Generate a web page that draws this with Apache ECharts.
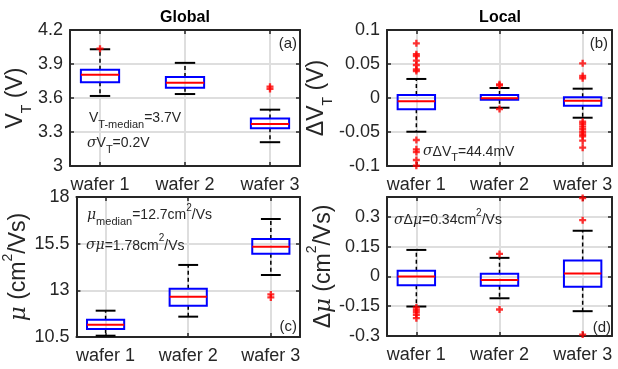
<!DOCTYPE html>
<html><head><meta charset="utf-8">
<script src="https://cdn.jsdelivr.net/npm/echarts@6/dist/echarts.min.js"></script>
<style>html,body{margin:0;padding:0;background:#fff}#c{width:618px;height:369px}</style>
</head><body><div id="c"></div>
<script>
// ---------------- data ----------------
const categories = ['wafer 1', 'wafer 2', 'wafer 3'];
const xPositions = [1, 2, 3];
// box stats per wafer: [lower whisker, Q1, median, Q3, upper whisker]
const vtGlobalBoxes = [[3.618, 3.74, 3.806, 3.85, 4.03], [3.635, 3.69, 3.735, 3.785, 3.91], [3.21, 3.333, 3.37, 3.42, 3.497]];
const vtGlobalOutliers = [[4.035], [], [3.68, 3.70]];
const vtGlobalTicks = [3, 3.3, 3.6, 3.9, 4.2];

const dvtLocalBoxes = [[-0.0496, -0.0166, -0.0049, 0.0044, 0.028], [-0.0143, -0.0025, -0.0004, 0.0044, 0.0147], [-0.029, -0.0113, -0.004, 0.001, 0.0137]];
const dvtLocalOutliers = [
  [0.0804, 0.0643, 0.0618, 0.0549, 0.0485, 0.0422, 0.0397, -0.0618, -0.0755, -0.0794, -0.0912, -0.0996],
  [0.0201, 0.0185, -0.0162],
  [0.051, 0.0324, 0.029, -0.0349, -0.0382, -0.0422, -0.046, -0.05, -0.0534, -0.0563, -0.0628, -0.0731]
];
const dvtLocalTicks = [-0.1, -0.05, 0, 0.05, 0.1];

const muGlobalBoxes = [[10.57, 10.93, 11.16, 11.43, 11.91], [11.59, 12.18, 12.66, 13.09, 14.36], [13.82, 14.96, 15.34, 15.75, 16.82]];
const muGlobalOutliers = [[], [], [12.62, 12.78]];
const muGlobalTicks = [10.5, 13, 15.5, 18];

const dmuLocalBoxes = [[-0.1515, -0.045, 0, 0.0285, 0.1335], [-0.11, -0.0465, -0.018, 0.0135, 0.0935], [-0.175, -0.0515, 0.015, 0.08, 0.23]];
const dmuLocalOutliers = [[-0.156, -0.168, -0.18, -0.193, -0.21], [0.1135, -0.1665], [0.395, 0.2835, -0.293]];
const dmuLocalTicks = [-0.3, -0.15, 0, 0.15, 0.3];

// ---------------- styling / layout ----------------
const FONT = '"Liberation Sans", Arial, Helvetica, sans-serif';
const SERIF = '"DejaVu Serif", serif';
const INK = '#262626';
const GRIDC = '#dedede';
const X_MIN = 0.647, X_MAX = 3.353;
const BOX_HALF = 0.225, CAP_HALF = 0.12;

const nameRich = {
  m: {fontSize: 23, lineHeight: 36, fontFamily: FONT, color: INK},
  g: {fontSize: 23, lineHeight: 36, fontFamily: SERIF, fontStyle: 'italic', color: INK},
  sub: {fontSize: 14, lineHeight: 14, verticalAlign: 'bottom', fontFamily: FONT, color: INK},
  sup: {fontSize: 14, lineHeight: 12, verticalAlign: 'top', fontFamily: FONT, color: INK}
};
const annRich = {
  m: {fontSize: 14, lineHeight: 24, fontFamily: FONT, color: INK},
  g: {fontSize: 14, lineHeight: 24, fontFamily: SERIF, fontStyle: 'italic', color: INK},
  sub: {fontSize: 11, lineHeight: 11, verticalAlign: 'bottom', fontFamily: FONT, color: INK},
  sup: {fontSize: 10, lineHeight: 18, verticalAlign: 'top', fontFamily: FONT, color: INK}
};

const panels = [
  {boxes: vtGlobalBoxes, outliers: vtGlobalOutliers, ticks: vtGlobalTicks, min: 3, max: 4.2,
   grid: {left: 70, top: 30, width: 230, height: 136}, name: '{m|V}{sub|T}{m| (V)}', nameGap: 29},
  {boxes: dvtLocalBoxes, outliers: dvtLocalOutliers, ticks: dvtLocalTicks, min: -0.1, max: 0.1,
   grid: {left: 387, top: 30, width: 225, height: 136}, name: '{m|ΔV}{sub|T}{m| (V)}', nameGap: 40},
  {boxes: muGlobalBoxes, outliers: muGlobalOutliers, ticks: muGlobalTicks, min: 10.5, max: 18,
   grid: {left: 71, top: 197, width: 229, height: 140}, name: '{g|μ}{m| (cm}{sup|2}{m|/Vs)}', nameGap: 29},
  {boxes: dmuLocalBoxes, outliers: dmuLocalOutliers, ticks: dmuLocalTicks, min: -0.3, max: 0.4,
   grid: {left: 387, top: 197, width: 225, height: 139}, name: '{m|Δ}{g|μ}{m| (cm}{sup|2}{m|/Vs)}', nameGap: 44}
];

const fmt = v => String(Math.round(v * 1000) / 1000);
const lineStyle = {color: INK, width: 2};
const grids = [], xAxes = [], yAxes = [], series = [];

panels.forEach((p, i) => {
  grids.push(Object.assign({containLabel: false}, p.grid));
  xAxes.push({
    type: 'value', gridIndex: i, min: X_MIN, max: X_MAX, position: 'bottom',
    axisLine: {show: true, onZero: false, lineStyle},
    axisTick: {show: true, inside: true, length: 4, customValues: xPositions, lineStyle: {color: INK, width: 1.5}},
    axisLabel: {show: true, customValues: xPositions, formatter: v => categories[Math.round(v) - 1],
                fontSize: 18, fontFamily: FONT, color: INK, margin: 10},
    splitLine: {show: true, lineStyle: {color: GRIDC, width: 2}}
  });
  xAxes.push({
    type: 'value', gridIndex: i, min: X_MIN, max: X_MAX, position: 'top',
    axisLine: {show: true, onZero: false, lineStyle},
    axisTick: {show: true, inside: true, length: 4, customValues: xPositions, lineStyle: {color: INK, width: 1.5}},
    axisLabel: {show: false}, splitLine: {show: false}
  });
  yAxes.push({
    type: 'value', gridIndex: i, min: p.min, max: p.max, position: 'left',
    axisLine: {show: true, onZero: false, lineStyle},
    axisTick: {show: true, inside: true, length: 4, customValues: p.ticks, lineStyle: {color: INK, width: 1.5}},
    axisLabel: {show: true, customValues: p.ticks, formatter: fmt, fontSize: 18, fontFamily: FONT, color: INK, margin: 7},
    splitLine: {show: true, lineStyle: {color: GRIDC, width: 2}},
    name: p.name, nameLocation: 'middle', nameRotate: 90, nameGap: p.nameGap,
    nameTextStyle: {rich: nameRich}
  });
  yAxes.push({
    type: 'value', gridIndex: i, min: p.min, max: p.max, position: 'right',
    axisLine: {show: true, onZero: false, lineStyle},
    axisTick: {show: true, inside: true, length: 4, customValues: p.ticks, lineStyle: {color: INK, width: 1.5}},
    axisLabel: {show: false}, splitLine: {show: false}
  });

  series.push({
    type: 'custom', xAxisIndex: i * 2, yAxisIndex: i * 2, z: 3,
    data: p.boxes.map((b, k) => [xPositions[k]].concat(b)),
    encode: {x: 0, y: [1, 2, 3, 4, 5]},
    renderItem: (params, api) => {
      const x = api.value(0);
      const lo = api.value(1), q1 = api.value(2), med = api.value(3), q3 = api.value(4), hi = api.value(5);
      const c = (xx, yy) => api.coord([xx, yy]);
      const seg = (a, b, style) => ({type: 'line', shape: {x1: a[0], y1: a[1], x2: b[0], y2: b[1]}, style});
      const dash = {stroke: '#000', lineWidth: 1.5, lineDash: [4, 3]};
      const cap = {stroke: '#000', lineWidth: 2};
      const tl = c(x - BOX_HALF, q3), br = c(x + BOX_HALF, q1);
      return {type: 'group', children: [
        seg(c(x, q3), c(x, hi), dash),
        seg(c(x, q1), c(x, lo), dash),
        seg(c(x - CAP_HALF, hi), c(x + CAP_HALF, hi), cap),
        seg(c(x - CAP_HALF, lo), c(x + CAP_HALF, lo), cap),
        {type: 'rect', shape: {x: tl[0], y: tl[1], width: br[0] - tl[0], height: br[1] - tl[1]},
         style: {fill: 'none', stroke: '#0000ff', lineWidth: 2}},
        seg(c(x - BOX_HALF, med), c(x + BOX_HALF, med), {stroke: '#ff0000', lineWidth: 2})
      ]};
    }
  });
  const pts = [];
  p.outliers.forEach((arr, k) => arr.forEach(v => pts.push([xPositions[k], v])));
  series.push({
    type: 'scatter', xAxisIndex: i * 2, yAxisIndex: i * 2, z: 4, clip: true,
    symbol: 'path://M2,0H4V2H6V4H4V6H2V4H0V2H2Z', symbolSize: 7,
    itemStyle: {color: '#ff0000'}, data: pts
  });
});

const txt = (x, y, text, align) => ({
  type: 'text', x, y, z: 10,
  style: {text, rich: annRich, align: align || 'left', verticalAlign: 'middle', font: '14px ' + FONT, fill: INK}
});
const plain = (x, y, text, size, align, weight) => ({
  type: 'text', x, y, z: 10,
  style: {text, align, verticalAlign: 'middle', font: (weight || 'normal') + ' ' + size + 'px ' + FONT, fill: weight ? '#000' : INK}
});

const graphic = [
  plain(185, 17.5, 'Global', 16, 'center', 'bold'),
  plain(500, 17.5, 'Local', 16, 'center', 'bold'),
  plain(297, 44, '(a)', 15, 'right'),
  plain(608, 44, '(b)', 15, 'right'),
  plain(297, 327, '(c)', 15, 'right'),
  plain(611, 328, '(d)', 15, 'right'),
  txt(89, 118, '{m|V}{sub|T-median}{m|=3.7V}'),
  txt(87, 143, '{g|σ}{m|V}{sub|T}{m|=0.2V}'),
  txt(423, 151.7, '{g|σ}{m|ΔV}{sub|T}{m|=44.4mV}'),
  txt(87, 215, '{g|μ}{sub|median}{m|=12.7cm}{sup|2}{m|/Vs}'),
  txt(86, 245.7, '{g|σμ}{m|=1.78cm}{sup|2}{m|/Vs}'),
  txt(394, 220, '{g|σ}{m|Δ}{g|μ}{m|=0.34cm}{sup|2}{m|/Vs}')
];

const chart = echarts.init(document.getElementById('c'), null, {renderer: 'canvas'});
chart.setOption({
  animation: false,
  backgroundColor: '#fff',
  grid: grids, xAxis: xAxes, yAxis: yAxes, series, graphic
});
</script></body></html>
